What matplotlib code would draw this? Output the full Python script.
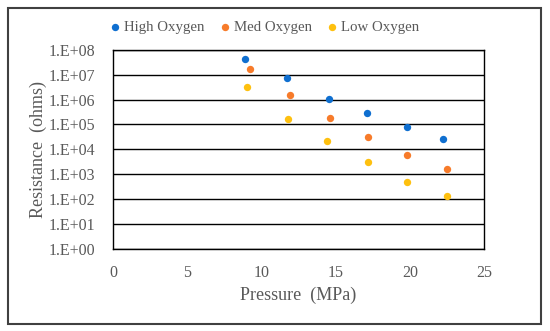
import math
import matplotlib.pyplot as plt
from matplotlib.patches import Rectangle
from matplotlib.ticker import FixedLocator, FuncFormatter

# pressure (MPa) and resistance (ohms) per series
high_x = [8.9, 11.7, 14.55, 17.1, 19.8, 22.25]
high_y = [4.5e7, 7.2e6, 1.1e6, 2.9e5, 7.6e4, 2.6e4]
med_x = [9.2, 11.9, 14.6, 17.2, 19.8, 22.5]
med_y = [1.7e7, 1.5e6, 1.9e5, 3.2e4, 6.0e3, 1.6e3]
low_x = [9.05, 11.8, 14.4, 17.15, 19.8, 22.5]
low_y = [3.1e6, 1.7e5, 2.1e4, 3.0e3, 480, 130]

labels = ['High Oxygen', 'Med Oxygen', 'Low Oxygen']
colors = ['#0f6fd0', '#f77b2a', '#fec00f']
x_ticks = [0, 5, 10, 15, 20, 25]
y_ticks = [10.0 ** k for k in range(0, 9)]

plt.rcParams['font.family'] = ['Liberation Serif', 'DejaVu Serif']
text_col = '#595959'

fig = plt.figure(figsize=(5.5, 3.31), dpi=100)
ax = fig.add_axes([0.2055, 0.249, 0.6745, 0.6])

for xs, ys, lab, c in zip([high_x, med_x, low_x], [high_y, med_y, low_y], labels, colors):
    ax.scatter(xs, ys, s=28, color=c, label=lab, zorder=3, linewidths=0)

ax.set_yscale('log')
ax.set_xlim(0, 25)
ax.set_ylim(1, 1e8)
ax.xaxis.set_major_locator(FixedLocator(x_ticks))
ax.yaxis.set_major_locator(FixedLocator(y_ticks))
ax.yaxis.set_minor_locator(FixedLocator([]))
ax.yaxis.set_major_formatter(FuncFormatter(lambda v, p: '1.E+%02d' % round(math.log10(v))))
ax.grid(axis='y', color='black', linewidth=1.0)
ax.tick_params(length=0, labelsize=11.5, colors=text_col)
ax.tick_params(axis='x', pad=12)
ax.tick_params(axis='y', pad=13)
for s in ax.spines.values():
    s.set_color('black')
    s.set_linewidth(1.0)

ax.set_xlabel('Pressure  (MPa)', fontsize=13, color=text_col, labelpad=4)
ax.set_ylabel('Resistance  (ohms)', fontsize=13, color=text_col, labelpad=1)

leg = fig.legend(loc='center', bbox_to_anchor=(0.481, 0.918), ncol=3, frameon=False,
                 fontsize=10.7, handlelength=0.7, handletextpad=0.25,
                 columnspacing=1.0, markerscale=1.0)
for t in leg.get_texts():
    t.set_color(text_col)

# outer chart border
fig.patches.append(Rectangle((0.015, 0.02), 0.968, 0.955, transform=fig.transFigure,
                             fill=False, edgecolor='#404040', linewidth=1.5))

fig.savefig('out.png', dpi=100)
